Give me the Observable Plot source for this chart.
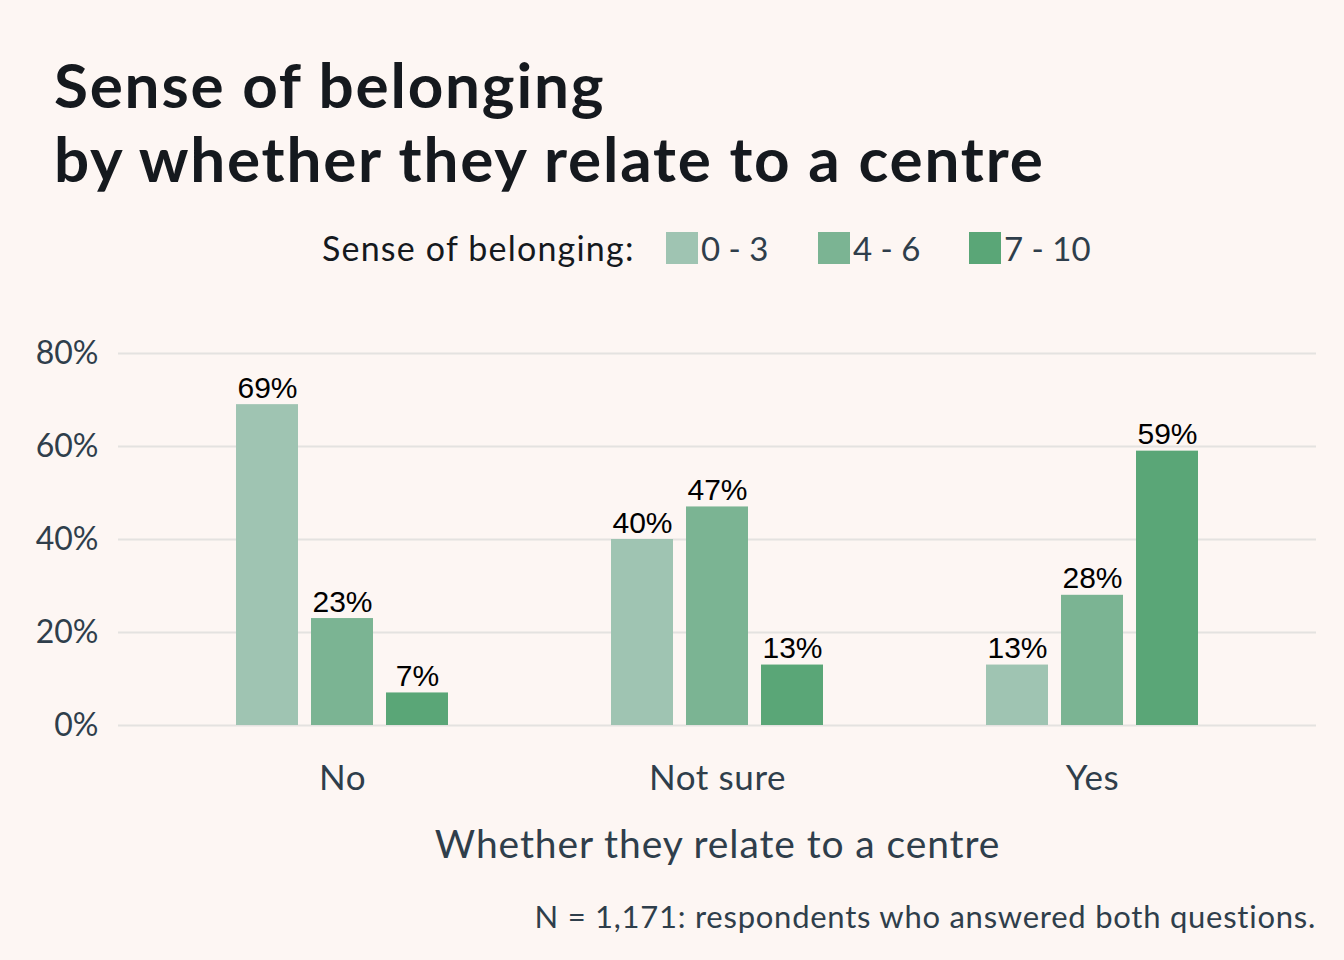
<!DOCTYPE html>
<html>
<head>
<meta charset="utf-8">
<script src="https://cdn.jsdelivr.net/npm/d3@7"></script>
<script src="https://cdn.jsdelivr.net/npm/@observablehq/plot@0.6"></script>
<style>
  html, body { margin: 0; padding: 0; background: #fdf6f3; }
  #chart { position: relative; width: 1344px; height: 960px; background: #fdf6f3; overflow: hidden; }
  #chart svg { position: absolute; left: 0; top: 0; }
  .title { position: absolute; left: 54px; top: 47px; font-family: Lato, sans-serif; font-weight: 700;
           font-size: 62px; line-height: 74px; color: #15191e; letter-spacing: 1.8px; }
  .legend { position: absolute; left: 0; top: 228px; width: 1344px; height: 40px;
            font-family: Lato, sans-serif; font-size: 34px; letter-spacing: 1.2px; }
  .legend span { position: absolute; top: 0; height: 40px; line-height: 40px; white-space: nowrap; }
  .legend .lab { color: #15191e; }
  .legend .sw { width: 32px; height: 32px; top: 4px; }
  .legend .txt { color: #2f3e4b; letter-spacing: 0px; font-size: 33px; }
  .caption { position: absolute; right: 28px; top: 897px; font-family: Lato, sans-serif; font-size: 31px;
             letter-spacing: 0.75px; color: #2f3e4b; }
</style>
</head>
<body>
<div id="chart">
  <div class="title">Sense of belonging<br>by whether they relate to a centre</div>
  <div class="legend" id="legend"><span class="lab" style="left:322px">Sense of belonging:</span></div>
  <div class="caption">N = 1,171: respondents who answered both questions.</div>
</div>
<script>
// Groups on the x axis and belonging bands within each group
const groups = ["No", "Not sure", "Yes"];
const bands = ["0 - 3", "4 - 6", "7 - 10"];
const bandColors = ["#9fc4b2", "#7bb493", "#5aa677"];

// Share of respondents (%) in each band, per group
const shareNo = [69, 23, 7];
const shareNotSure = [40, 47, 13];
const shareYes = [13, 28, 59];

const yTicks = [0, 20, 40, 60, 80];

const shares = [shareNo, shareNotSure, shareYes];
const data = [];
groups.forEach((g, gi) => bands.forEach((b, bi) => {
  data.push({group: g, band: b, key: g + "|" + b, value: shares[gi][bi]});
}));

// x slots: three bars per group, two empty slots between groups
const xDomain = [];
groups.forEach((g, gi) => {
  bands.forEach(b => xDomain.push(g + "|" + b));
  if (gi < groups.length - 1) xDomain.push("gap" + gi + "a", "gap" + gi + "b");
});

// legend: swatch followed by its band label
const legend = document.getElementById("legend");
const legendLeft = [666, 818, 969];
bands.forEach((b, i) => {
  const sw = document.createElement("span");
  sw.className = "sw";
  sw.style.left = legendLeft[i] + "px";
  sw.style.background = bandColors[i];
  legend.appendChild(sw);
  const t = document.createElement("span");
  t.className = "txt";
  t.style.left = (legendLeft[i] + 35) + "px";
  t.textContent = b;
  legend.appendChild(t);
});

const axisFont = "Lato, sans-serif";

const plot = Plot.plot({
  width: 1344,
  height: 960,
  marginLeft: 118,
  marginRight: 28,
  marginTop: 353,
  marginBottom: 235,
  style: {background: "transparent", fontFamily: axisFont},
  x: {domain: xDomain, paddingInner: 0.173, paddingOuter: 1.573, axis: null},
  y: {domain: [0, 80], axis: null},
  color: {domain: bands, range: bandColors},
  marks: [
    Plot.gridY(yTicks, {stroke: "#e4e2e0", strokeOpacity: 1, strokeWidth: 2}),
    Plot.axisY(yTicks, {
      tickSize: 0, tickPadding: 20, tickFormat: d => d + "%",
      fontSize: 32, fill: "#2f3e4b", label: null, style: "letter-spacing: 1.5px"
    }),
    Plot.axisX({
      tickSize: 0, tickPadding: 40, fontSize: 35, fill: "#2f3e4b",
      tickFormat: k => k.endsWith("|4 - 6") ? k.split("|")[0] : "",
      label: null
    }),
    Plot.barY(data, {x: "key", y: "value", fill: "band"}),
    Plot.text(data, {
      x: "key", y: "value", text: d => d.value + "%",
      lineAnchor: "bottom", dy: -7, fontSize: 30, fill: "#000",
      fontFamily: "'Liberation Sans', Arial, sans-serif"
    }),
    Plot.text(["Whether they relate to a centre"], {
      frameAnchor: "bottom", dy: 132, fontSize: 39, fill: "#2f3e4b", fontFamily: axisFont
    })
  ]
});
document.getElementById("chart").appendChild(plot);
// wider letter spacing for the axis labels and axis title
plot.querySelectorAll("g[aria-label='x-axis tick label'] text").forEach(t => t.style.letterSpacing = "0.6px");
plot.querySelectorAll("g[aria-label='text'] text").forEach(t => {
  if (t.textContent.startsWith("Whether")) t.style.letterSpacing = "0.9px";
});
</script>
</body>
</html>
